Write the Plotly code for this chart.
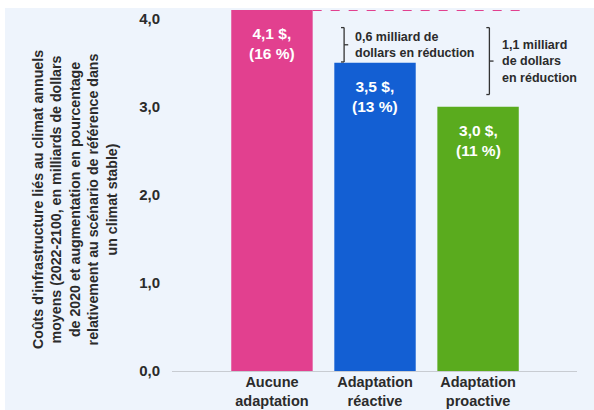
import plotly.graph_objects as go

categories = ["Aucune<br>adaptation", "Adaptation<br>réactive", "Adaptation<br>proactive"]
values = [4.1, 3.5, 3.0]
percents = [16, 13, 11]
bar_colors = ["#e2408f", "#135fd3", "#5aab1e"]
yticks = [0, 1, 2, 3, 4]
ytick_labels = ["0,0", "1,0", "2,0", "3,0", "4,0"]
reduction_labels = ["0,6 milliard de<br>dollars en réduction", "1,1 milliard<br>de dollars<br>en réduction"]
y_title = ("Coûts d'infrastructure liés au climat annuels<br>moyens (2022-2100, en milliards de dollars<br>"
           "de 2020 et augmentation en pourcentage<br>relativement au scénario de référence dans<br>un climat stable)")

FONT = "Liberation Sans, Arial, sans-serif"
TXT = "#2b2b2b"
BG = "#eef4fc"

xs = list(range(len(categories)))
fig = go.Figure()
fig.add_trace(go.Bar(x=xs, y=values, marker=dict(color=bar_colors, line=dict(width=0)),
                     width=0.79, hoverinfo="skip"))

def fmt(v):
    return f"{v:.1f}".replace(".", ",")

# bar value labels
for i, (v, p) in enumerate(zip(values, percents)):
    fig.add_annotation(x=i, y=v, text=f"<b>{fmt(v)} $,<br>({p} %)</b>", showarrow=False,
                       yanchor="top", yshift=-13, font=dict(family=FONT, size=15.5, color="white"))

# dashed reference line at the top of the first bar
fig.add_shape(type="line", x0=0.395, x1=2.42, y0=values[0], y1=values[0],
              line=dict(color="#e2408f", width=2, dash="dash"))

def bracket(x, ytop, ybot, hook=0.03, tick=0.04):
    col = "#333333"
    w = 1.3
    fig.add_shape(type="line", x0=x, x1=x, y0=ytop, y1=ybot, line=dict(color=col, width=w))
    fig.add_shape(type="line", x0=x - hook, x1=x, y0=ytop, y1=ytop, line=dict(color=col, width=w))
    fig.add_shape(type="line", x0=x - hook, x1=x, y0=ybot, y1=ybot, line=dict(color=col, width=w))
    ym = (ytop + ybot) / 2
    fig.add_shape(type="line", x0=x, x1=x + tick, y0=ym, y1=ym, line=dict(color=col, width=w))
    return ym

top = values[0] - 0.2
ym1 = bracket(0.70, top, values[1] + 0.01)
ym2 = bracket(2.11, top, values[2] + 0.14)
fig.add_annotation(x=0.79, y=ym1, text=f"<b>{reduction_labels[0]}</b>", showarrow=False, align="left",
                   xanchor="left", yanchor="middle", font=dict(family=FONT, size=12.5, color=TXT))
fig.add_annotation(x=2.21, y=ym2, text=f"<b>{reduction_labels[1]}</b>", showarrow=False, align="left",
                   xanchor="left", yanchor="middle", font=dict(family=FONT, size=12.5, color=TXT))

PW, PH, L, R, T, B = 594, 410, 172, 17, 10, 39
pw, ph = PW - L - R, PH - T - B

# y axis title
fig.add_annotation(xref="paper", yref="paper", x=(75 - L) / pw, y=(PH - B - 200) / ph, text=f"<b>{y_title}</b>",
                   textangle=-90, showarrow=False, xanchor="center", yanchor="middle",
                   font=dict(family=FONT, size=14.2, color=TXT))

# white bands at top and left edge of image
fig.add_shape(type="rect", xref="paper", yref="paper", x0=-L/pw, x1=1 + R/pw,
              y0=1 + 2/ph, y1=1 + T/ph, fillcolor="white", line=dict(width=0), layer="below")
fig.add_shape(type="rect", xref="paper", yref="paper", x0=-L/pw, x1=-(L-5)/pw,
              y0=-B/ph, y1=1 + T/ph, fillcolor="white", line=dict(width=0), layer="below")

fig.update_layout(
    width=PW, height=PH,
    margin=dict(l=L, r=R, t=T, b=B, autoexpand=False),
    paper_bgcolor=BG, plot_bgcolor=BG,
    showlegend=False,
    xaxis=dict(range=[-0.97, 2.96], tickvals=xs, ticktext=[f"<b>{c}</b>" for c in categories],
               showgrid=False, zeroline=False, showline=True, linecolor="#c8ccd2", linewidth=1,
               ticks="", ticklabelstandoff=-2, automargin=False,
               tickfont=dict(family=FONT, size=14.5, color=TXT), fixedrange=True),
    yaxis=dict(range=[0, 4.1], tickvals=yticks, ticktext=[f"<b>{t}</b>" for t in ytick_labels],
               showgrid=False, zeroline=False, showline=False, ticks="outside", ticklen=8,
               automargin=False,
               tickcolor="rgba(0,0,0,0)", tickfont=dict(family=FONT, size=15, color=TXT), fixedrange=True),
)

fig.write_html("out.html", config={"displayModeBar": False})
